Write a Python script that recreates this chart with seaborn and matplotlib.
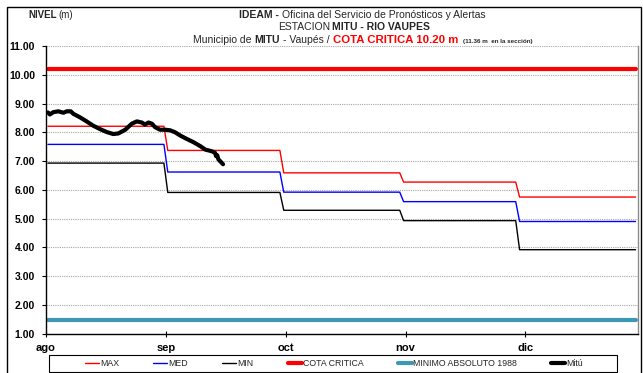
import numpy as np
import pandas as pd
import matplotlib
matplotlib.use("Agg")
import matplotlib.pyplot as plt
from matplotlib.patches import Rectangle
import seaborn as sns

# ---- data -------------------------------------------------------------
meses = ["ago", "sep", "oct", "nov", "dic"]
dias_mes = [31, 30, 31, 30, 31]

nivel_max = [8.21, 7.37, 6.59, 6.27, 5.75]
nivel_med = [7.58, 6.62, 5.92, 5.59, 4.90]
nivel_min = [6.93, 5.91, 5.29, 4.93, 3.92]

cota_critica = 10.20
minimo_absoluto_1988 = 1.48

# Mitú readings: day offset from 1 Aug, level (m)
mitu_dia = [0.0, 0.5, 1.4, 2.7, 4.0, 4.9, 5.9, 6.6, 8.3, 10.0, 11.7, 13.5,
            15.2, 16.9, 18.2, 20.0, 21.7, 23.0, 24.3, 25.1, 26.0, 26.9,
            27.7, 29.0, 30.3, 31.6, 32.9, 34.2, 35.9, 37.6, 39.4, 40.7,
            42.4, 43.2, 43.5, 43.8, 44.1, 45.3]
mitu_nivel = [8.69, 8.62, 8.70, 8.73, 8.68, 8.73, 8.73, 8.64, 8.52, 8.38,
              8.23, 8.11, 8.01, 7.94, 7.96, 8.09, 8.30, 8.38, 8.34, 8.27,
              8.34, 8.30, 8.18, 8.09, 8.09, 8.07, 8.00, 7.89, 7.77, 7.66,
              7.52, 7.40, 7.34, 7.29, 7.17, 7.20, 7.06, 6.89]

# ---- tables -----------------------------------------------------------
n_dias = sum(dias_mes)
dia = np.arange(n_dias) + 0.5
serie = pd.DataFrame({
    "dia": dia,
    "MAX": np.repeat(nivel_max, dias_mes),
    "MED": np.repeat(nivel_med, dias_mes),
    "MIN": np.repeat(nivel_min, dias_mes),
    "COTA CRITICA": np.full(n_dias, cota_critica),
    "MINIMO ABSOLUTO 1988": np.full(n_dias, minimo_absoluto_1988),
})
mitu = pd.DataFrame({"dia": np.array(mitu_dia) + 0.5, "nivel": mitu_nivel})

# ---- style ------------------------------------------------------------
sns.set_style("white")
plt.rcParams["font.family"] = ["Liberation Sans", "DejaVu Sans"]

W, H = 643, 373
fig = plt.figure(figsize=(W / 100, H / 100), dpi=100)
fig.patch.set_facecolor("white")

x0, x1 = 46, 637.5
y_top, y_bot = 46, 333.7
ax = fig.add_axes([x0 / W, 1 - y_bot / H, (x1 - x0) / W, (y_bot - y_top) / H])
ax.set_facecolor("white")

estilos = [
    ("MAX", "#ff0000", 1.0),
    ("MED", "#0000ff", 1.0),
    ("MIN", "#000000", 1.0),
    ("COTA CRITICA", "#ff0000", 3.0),
    ("MINIMO ABSOLUTO 1988", "#3d98b4", 3.0),
]
for nombre, color, lw in estilos:
    sns.lineplot(data=serie, x="dia", y=nombre, ax=ax, color=color,
                 linewidth=lw, label=nombre, estimator=None, sort=False)
sns.lineplot(data=mitu, x="dia", y="nivel", ax=ax, color="black",
             linewidth=3.0, label="Mitú", estimator=None, sort=False)

ax.set_xlim(0, n_dias)
ax.set_ylim(1, 11)
ax.set_xlabel("")
ax.set_ylabel("")

ax.set_yticks(np.arange(1, 12))
ax.set_yticklabels([f"{v:.2f}" for v in np.arange(1, 12)],
                   fontsize=7.5, fontweight="bold")
ax.set_xticks([0, 31, 62, 93, 124])
ax.set_xticklabels(meses, fontsize=8, fontweight="bold")
ax.tick_params(axis="y", direction="out", length=3, width=0.8, pad=5,
               left=True, colors="black")
ax.tick_params(axis="x", direction="inout", length=4, width=0.8, pad=5,
               bottom=True, colors="black")

ax.grid(axis="y", color="#a6a6a6", linestyle=(0, (1, 1)), linewidth=0.8)
ax.grid(axis="x", visible=False)
ax.set_axisbelow(True)
for s in ["left", "bottom"]:
    ax.spines[s].set_color("black")
    ax.spines[s].set_linewidth(1.0)
ax.spines["right"].set_color("#8c8c8c")
ax.spines["right"].set_linewidth(1.0)
ax.spines["top"].set_visible(False)

# ---- legend -----------------------------------------------------------
handles, labels = ax.get_legend_handles_labels()
leg = ax.legend(handles, labels, loc="center", ncol=6,
                bbox_to_anchor=(334 / W, 1 - 363.5 / H),
                bbox_transform=fig.transFigure, borderaxespad=0,
                frameon=False, fontsize=6.3, handlelength=1.6,
                handletextpad=0.15, borderpad=0.0, columnspacing=3.9)
fig.patches.append(Rectangle((49 / W, 1 - 372 / H), 568 / W, 17 / H,
                             transform=fig.transFigure, fill=False,
                             edgecolor="black", linewidth=0.8))

# ---- chart frame ------------------------------------------------------
fig.patches.append(Rectangle((7 / W, -0.05), (641 - 7) / W, 1.05 - 7 / H,
                             transform=fig.transFigure, fill=False,
                             edgecolor="black", linewidth=1.0))

# ---- header texts -----------------------------------------------------
renderer = fig.canvas.get_renderer()


def rich_line(y_px, parts, xc_px=None, x_left_px=None):
    """Lay out text pieces side by side on one baseline."""
    texts, gaps = [], []
    for txt, gap, kw in parts:
        t = fig.text(0, 1 - y_px / H, txt, ha="left", va="baseline", **kw)
        texts.append(t)
        gaps.append(gap)
    widths = [t.get_window_extent(renderer).width for t in texts]
    total = sum(widths) + sum(gaps[1:])
    x = x_left_px if x_left_px is not None else xc_px - total / 2
    for i, (t, w) in enumerate(zip(texts, widths)):
        if i > 0:
            x += gaps[i]
        t.set_x(x / W)
        x += w


rich_line(18, [("NIVEL", 0, dict(fontsize=7, fontweight="bold")),
               ("(m)", 2, dict(fontsize=7))], x_left_px=28)

rich_line(18, [("IDEAM -", 0, dict(fontsize=7.5, fontweight="bold")),
               ("Oficina del Servicio de Pronósticos y Alertas", 3,
                dict(fontsize=7.5))], xc_px=362)
rich_line(30, [("ESTACION", 0, dict(fontsize=7.5)),
               ("MITU - RIO VAUPES", 2, dict(fontsize=7.5, fontweight="bold"))],
          xc_px=354)
rich_line(43, [("Municipio de", 0, dict(fontsize=7.5)),
               ("MITU", 3, dict(fontsize=7.5, fontweight="bold")),
               ("- Vaupés /", 3, dict(fontsize=7.5)),
               ("COTA CRITICA 10.20 m", 3,
                dict(fontsize=8.2, fontweight="bold", color="#ff0000")),
               ("(11.36 m  en la sección)", 5,
                dict(fontsize=4.5, fontweight="bold"))],
          xc_px=363)

fig.savefig("out.png", dpi=100, facecolor="white")
